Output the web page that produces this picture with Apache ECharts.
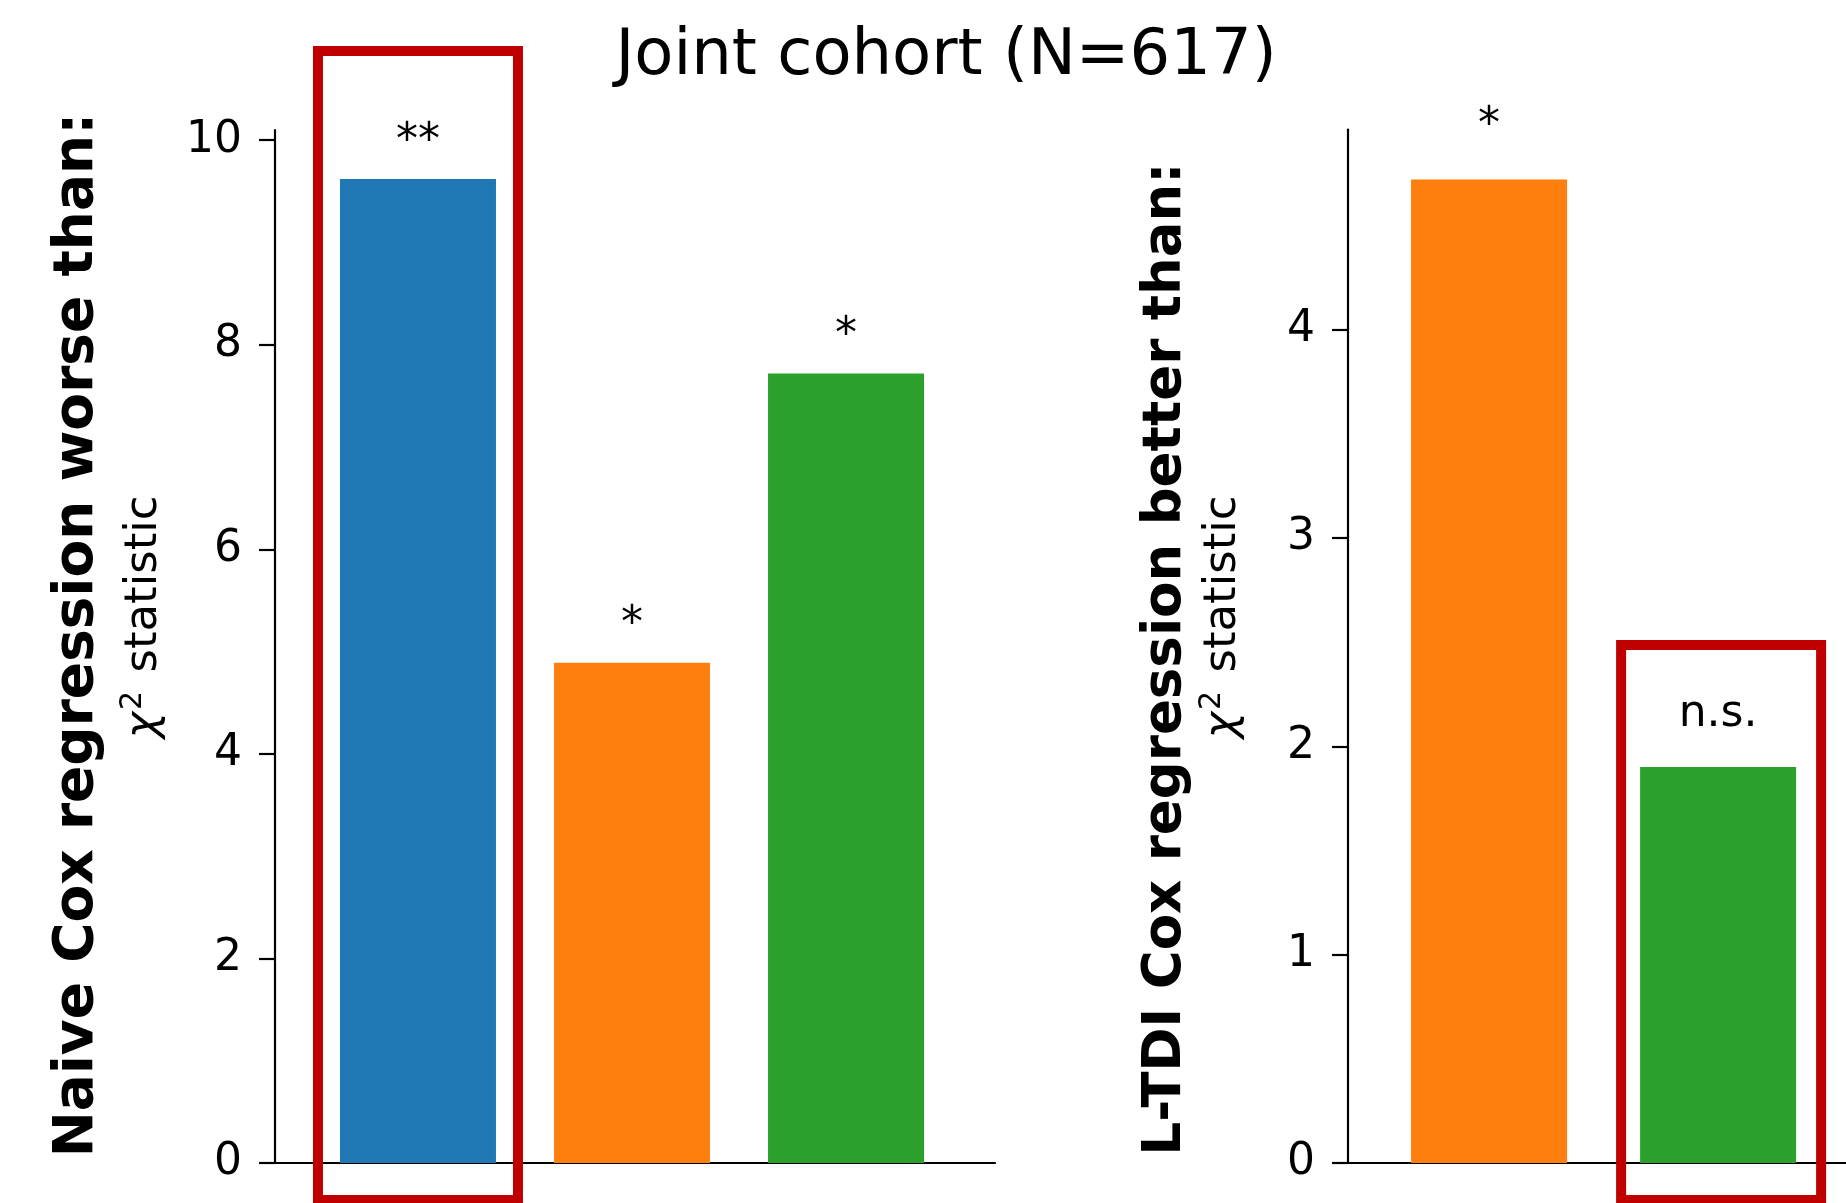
<!DOCTYPE html>
<html>
<head>
<meta charset="utf-8">
<style>
  html, body { margin: 0; padding: 0; background: #ffffff; }
  #chart { width: 1846px; height: 1203px; }
</style>
<script src="https://cdn.jsdelivr.net/npm/echarts@6/dist/echarts.min.js"></script>
</head>
<body>
<div id="chart"></div>
<script>
// Chi-squared statistics of the likelihood-ratio comparisons, joint cohort
const titleText = 'Joint cohort (N=617)';
const naiveLabel = 'Naive Cox regression worse than:';
const ltdiLabel = 'L-TDI Cox regression better than:';
const statLabel = 'statistic';

// left panel: naive Cox model compared against three models
const naiveModels = [0, 1, 2];
const naiveChi2 = [9.62, 4.89, 7.72];
const naiveSig = ['**', '*', '*'];
const naiveTicks = [0, 2, 4, 6, 8, 10];

// right panel: L-TDI Cox model compared against two models
const ltdiModels = [1, 2];
const ltdiChi2 = [4.72, 1.90];
const ltdiSig = ['*', 'n.s.'];
const ltdiTicks = [0, 1, 2, 3, 4];

// highlighted comparisons (index within each panel)
const naiveHighlight = 0;
const ltdiHighlight = 1;

const palette = ['#1f77b4', '#ff7f0e', '#2ca02c'];
const FONT = 'DejaVu Sans';
const INK = '#000000';

function barData(models, values) {
  return values.map((v, i) => ({
    value: [i, v],
    itemStyle: { color: palette[models[i]] }
  }));
}

function yAxisFor(gridIndex, max, ticks) {
  return {
    type: 'value',
    gridIndex: gridIndex,
    min: 0,
    max: max,
    splitLine: { show: false },
    axisLine: { show: true, onZero: false, lineStyle: { color: INK, width: 2.2 } },
    axisTick: { show: true, inside: false, length: 16, customValues: ticks,
                lineStyle: { color: INK, width: 2.2 } },
    axisLabel: { show: true, margin: 33, customValues: ticks,
                 verticalAlign: 'middle',
                 padding: [18, 0, 0, 0],
                 fontFamily: FONT, fontSize: 44, color: INK }
  };
}

function xAxisFor(gridIndex, min, max) {
  return {
    type: 'value',
    gridIndex: gridIndex,
    min: min,
    max: max,
    splitLine: { show: false },
    axisLine: { show: true, onZero: false, lineStyle: { color: INK, width: 2.2 } },
    axisTick: { show: false },
    axisLabel: { show: false }
  };
}

function barSeries(idx, models, values, sig, dist) {
  return {
    type: 'bar',
    xAxisIndex: idx,
    yAxisIndex: idx,
    barWidth: 156,
    data: barData(models, values),
    label: {
      show: true,
      position: 'top',
      distance: dist,
      formatter: p => sig[p.dataIndex],
      fontFamily: FONT,
      fontSize: 44,
      color: INK
    }
  };
}

const chart = echarts.init(document.getElementById('chart'), null, { renderer: 'canvas' });

chart.setOption({
  backgroundColor: '#ffffff',
  animation: false,
  grid: [
    { left: 275, top: 130, width: 720, height: 1033, outerBoundsMode: 'none' },
    { left: 1348, top: 129.5, width: 800, height: 1033.5, outerBoundsMode: 'none' }
  ],
  xAxis: [
    xAxisFor(0, -0.668, 2.696),
    xAxisFor(1, -0.616, 2.877)
  ],
  yAxis: [
    yAxisFor(0, 10.1, naiveTicks),
    yAxisFor(1, 4.96, ltdiTicks)
  ],
  series: [
    barSeries(0, naiveModels, naiveChi2, naiveSig, 15),
    barSeries(1, ltdiModels, ltdiChi2, ltdiSig, 31)
  ]
});

// titles, rotated axis captions and highlight frames
const leftCx = chart.convertToPixel({ gridIndex: 0 }, [naiveHighlight, 0])[0];
const rightCx = chart.convertToPixel({ gridIndex: 1 }, [ltdiHighlight, 0])[0];

function vText(x, y, text, extra) {
  return {
    type: 'text',
    x: x, y: y,
    rotation: Math.PI / 2,
    style: Object.assign({
      text: text,
      align: 'center',
      verticalAlign: 'middle',
      fill: INK,
      fontFamily: FONT
    }, extra)
  };
}

const statStyle = {
  fontSize: 45,
  rich: {
    c: { fontFamily: FONT, fontSize: 45, fontStyle: 'italic', fill: INK },
    s: { fontFamily: FONT, fontSize: 30, fill: INK, padding: [0, 4, 22, 2] },
    t: { fontFamily: FONT, fontSize: 45, fill: INK }
  }
};

chart.setOption({
  graphic: [
    {
      type: 'text',
      x: 946, y: 57,
      style: {
        text: titleText,
        align: 'center',
        verticalAlign: 'middle',
        fill: INK,
        fontFamily: FONT,
        fontSize: 64
      }
    },
    vText(78, 635, naiveLabel, { fontSize: 55, fontWeight: 'bold' }),
    vText(144, 617, '{c|χ}{s|2}{t| ' + statLabel + '}', statStyle),
    vText(1166, 659, ltdiLabel, { fontSize: 53, fontWeight: 'bold' }),
    vText(1223, 617, '{c|χ}{s|2}{t| ' + statLabel + '}', statStyle),
    {
      type: 'rect',
      z: 100,
      shape: { x: leftCx - 100, y: 51, width: 200, height: 1149 },
      style: { fill: null, stroke: '#c00000', lineWidth: 10 }
    },
    {
      type: 'rect',
      z: 100,
      shape: { x: rightCx - 97, y: 645, width: 200, height: 555 },
      style: { fill: null, stroke: '#c00000', lineWidth: 10 }
    }
  ]
});
</script>
</body>
</html>
